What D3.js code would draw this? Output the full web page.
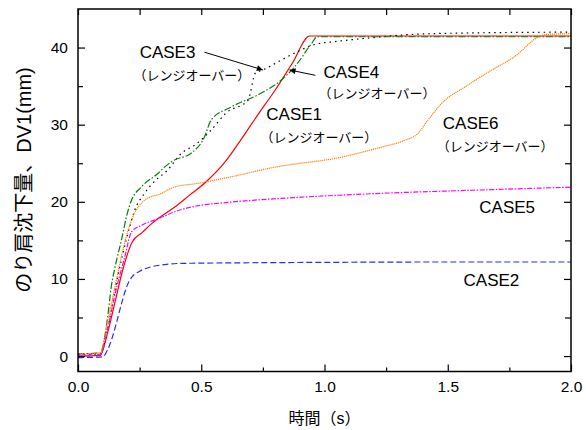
<!DOCTYPE html>
<html>
<head>
<meta charset="utf-8">
<script src="https://cdn.jsdelivr.net/npm/d3@7"></script>
<style>
  body { margin: 0; background: #fff; }
  text { font-family: 'Liberation Sans', Arial, 'Noto Sans CJK JP', sans-serif; fill: #000; }
</style>
</head>
<body>
<svg id="chart"></svg>
<script>
// data: time (s) and DV1 (mm) for each case
const case1Time = [0, 0.09, 0.12, 0.15, 0.18, 0.22, 0.26, 0.3, 0.35, 0.4, 0.45, 0.52, 0.6, 0.66, 0.73, 0.8, 0.87, 0.94, 1.0, 1.5, 2.0];
const case1Dv1  = [0, 0.1, 3.0, 7.0, 11.0, 14.8, 16.0, 17.2, 18.4, 19.5, 20.8, 22.6, 25.3, 28.0, 31.3, 34.5, 38.0, 41.5, 41.5, 41.5, 41.5];

const case2Time = [0, 0.1, 0.12, 0.14, 0.16, 0.18, 0.2, 0.22, 0.25, 0.3, 0.35, 0.4, 0.5, 0.7, 1.0, 1.5, 2.0];
const case2Dv1  = [-0.2, -0.1, 0.8, 2.5, 4.8, 7.2, 9.2, 10.3, 11.0, 11.6, 11.85, 12.0, 12.05, 12.1, 12.15, 12.2, 12.2];

const case3Time = [0, 0.09, 0.12, 0.15, 0.18, 0.21, 0.23, 0.27, 0.315, 0.36, 0.42, 0.48, 0.54, 0.6, 0.69, 0.72, 0.75, 0.82, 0.88, 0.96, 1.05, 1.2, 1.35, 1.6, 2.0];
const case3Dv1  = [0.2, 0.3, 3.5, 8.5, 13.0, 16.8, 18.9, 21.1, 22.8, 24.0, 26.3, 27.5, 29.3, 31.5, 33.2, 36.7, 37.1, 38.3, 39.3, 40.4, 40.8, 41.3, 41.7, 41.9, 42.0];

const case4Time = [0, 0.09, 0.12, 0.135, 0.15, 0.176, 0.2, 0.217, 0.256, 0.325, 0.351, 0.39, 0.459, 0.513, 0.54, 0.622, 0.744, 0.825, 0.879, 0.947, 0.97, 1.5, 2.0];
const case4Dv1  = [0.3, 0.4, 5.0, 9.0, 11.5, 15.0, 18.5, 20.2, 21.9, 23.7, 24.5, 25.4, 26.3, 28.4, 30.6, 32.3, 34.1, 35.8, 37.5, 40.5, 41.4, 41.4, 41.4];

const case5Time = [0, 0.09, 0.12, 0.15, 0.19, 0.217, 0.26, 0.325, 0.4, 0.488, 0.6, 0.906, 1.23, 1.6, 2.0];
const case5Dv1  = [0.1, 0.2, 3.5, 8.0, 12.9, 16.1, 17.0, 17.8, 18.8, 19.5, 19.9, 20.6, 21.1, 21.5, 21.9];

const case6Time = [0, 0.09, 0.12, 0.15, 0.18, 0.217, 0.27, 0.339, 0.39, 0.488, 0.6, 0.8, 1.07, 1.232, 1.32, 1.38, 1.42, 1.476, 1.57, 1.68, 1.77, 1.87, 1.9, 2.0];
const case6Dv1  = [0.3, 0.4, 4.5, 9.0, 13.5, 17.6, 20.2, 21.1, 21.9, 22.4, 23.1, 24.5, 25.8, 27.1, 27.9, 28.9, 30.6, 32.8, 34.9, 37.1, 38.8, 41.4, 41.7, 41.8];

const caseNames = ['CASE1', 'CASE2', 'CASE3', 'CASE4', 'CASE5', 'CASE6'];
const overLabel = '（レンジオーバー）';

const xTicks = [0, 0.5, 1.0, 1.5, 2.0];
const xMinorTicks = [0.25, 0.75, 1.25, 1.75];
const yTicks = [0, 10, 20, 30, 40];
const yMinorTicks = [5, 15, 25, 35];

const xTitle = '時間（s）';
const yTitle = 'のり肩沈下量、DV1(mm)';

const svgWidth = 586, svgHeight = 430;
const margin = { top: 9, right: 15, bottom: 58.5, left: 78 };
const chartWidth = svgWidth - margin.left - margin.right;
const chartHeight = svgHeight - margin.top - margin.bottom;

const xScale = d3.scaleLinear().domain([0, 2]).range([0, chartWidth]);
const yScale = d3.scaleLinear().domain([-2, 45]).range([chartHeight, 0]);

const svg = d3.select('#chart').attr('width', svgWidth).attr('height', svgHeight);
const g = svg.append('g').attr('transform', `translate(${margin.left}, ${margin.top})`);

// series
const series = [
  { t: case1Time, v: case1Dv1, color: '#ff0000', dash: null },
  { t: case2Time, v: case2Dv1, color: '#2a2aff', dash: '6,3' },
  { t: case3Time, v: case3Dv1, color: '#000000', dash: '1.5,4' },
  { t: case4Time, v: case4Dv1, color: '#008000', dash: '7,2,1.5,2' },
  { t: case5Time, v: case5Dv1, color: '#ff00ff', dash: '5,1.5,1.5,1.5' },
  { t: case6Time, v: case6Dv1, color: '#ff8000', dash: '1.2,0.8' }
];

const line = d3.line()
  .x(d => xScale(d[0]))
  .y(d => yScale(d[1]))
  .curve(d3.curveMonotoneX);

series.forEach(s => {
  g.append('path')
    .datum(s.t.map((t, i) => [t, s.v[i]]))
    .attr('fill', 'none')
    .attr('stroke', s.color)
    .attr('stroke-width', 1.2)
    .attr('stroke-dasharray', s.dash)
    .attr('d', line);
});

// axes, ticks pointing inwards
function styleAxis(sel) {
  sel.select('.domain').remove();
  sel.selectAll('line').attr('stroke', '#000').attr('stroke-width', 1.2);
}

g.append('g').attr('transform', `translate(0, ${chartHeight})`)
  .call(d3.axisBottom(xScale).tickValues(xTicks).tickFormat(d3.format('.1f')).tickSize(-7).tickPadding(9.5))
  .call(styleAxis)
  .selectAll('text').style('font-size', '15.5px').style('font-family', "'Liberation Sans', Arial, sans-serif");
g.append('g').attr('transform', `translate(0, ${chartHeight})`)
  .call(d3.axisBottom(xScale).tickValues(xMinorTicks).tickFormat('').tickSize(-4))
  .call(styleAxis);

g.append('g')
  .call(d3.axisLeft(yScale).tickValues(yTicks).tickFormat(d3.format('d')).tickSize(-7).tickPadding(10))
  .call(styleAxis)
  .selectAll('text').style('font-size', '15.5px').style('font-family', "'Liberation Sans', Arial, sans-serif");
g.append('g')
  .call(d3.axisLeft(yScale).tickValues(yMinorTicks).tickFormat('').tickSize(-5))
  .call(styleAxis);

g.append('g')
  .call(d3.axisTop(xScale).tickValues(xTicks.concat(xMinorTicks)).tickFormat('').tickSize(-6))
  .call(styleAxis);

g.append('g').attr('transform', `translate(${chartWidth}, 0)`)
  .call(d3.axisRight(yScale).tickValues(yTicks).tickFormat('').tickSize(-7))
  .call(styleAxis);
g.append('g').attr('transform', `translate(${chartWidth}, 0)`)
  .call(d3.axisRight(yScale).tickValues(yMinorTicks).tickFormat('').tickSize(-6))
  .call(styleAxis);

// frame
g.append('rect')
  .attr('width', chartWidth).attr('height', chartHeight)
  .attr('fill', 'none').attr('stroke', '#000').attr('stroke-width', 1.5);

// axis titles
svg.append('text')
  .attr('x', margin.left + chartWidth / 2).attr('y', 424)
  .attr('text-anchor', 'middle').style('font-size', '16px')
  .text(xTitle);

svg.append('text')
  .attr('transform', 'translate(31, 180) rotate(-90)')
  .attr('text-anchor', 'middle').style('font-size', '20px')
  .text(yTitle);

// case labels (positions in data units)
const labelPos = [
  { name: 0, t: 0.764, v: 30.6, sub: [0.74, 27.8] },
  { name: 1, t: 1.564, v: 9.04 },
  { name: 2, t: 0.25, v: 38.7, sub: [0.225, 35.8] },
  { name: 3, t: 0.996, v: 36.1, sub: [0.976, 33.4] },
  { name: 4, t: 1.628, v: 18.55 },
  { name: 5, t: 1.48, v: 29.5, sub: [1.455, 26.6] }
];

labelPos.forEach(p => {
  g.append('text')
    .attr('x', xScale(p.t)).attr('y', yScale(p.v))
    .style('font-size', '17px')
    .text(caseNames[p.name]);
  if (p.sub) {
    g.append('text')
      .attr('x', xScale(p.sub[0])).attr('y', yScale(p.sub[1]))
      .style('font-size', '13px')
      .style('font-family', "'Noto Sans CJK JP', sans-serif")
      .text(overLabel);
  }
});

// arrows
svg.append('defs').append('marker')
  .attr('id', 'head').attr('viewBox', '0 0 10 10')
  .attr('refX', 10).attr('refY', 5)
  .attr('markerWidth', 9).attr('markerHeight', 6)
  .attr('markerUnits', 'userSpaceOnUse')
  .attr('orient', 'auto')
  .append('path').attr('d', 'M0,0L10,5L0,10Z').attr('fill', '#000');

const arrows = [
  { from: [0.513, 39.4], to: [0.75, 37.1] },
  { from: [0.963, 36.4], to: [0.858, 37.1] }
];
arrows.forEach(a => {
  g.append('line')
    .attr('x1', xScale(a.from[0])).attr('y1', yScale(a.from[1]))
    .attr('x2', xScale(a.to[0])).attr('y2', yScale(a.to[1]))
    .attr('stroke', '#000').attr('stroke-width', 1)
    .attr('marker-end', 'url(#head)');
});
</script>
</body>
</html>
